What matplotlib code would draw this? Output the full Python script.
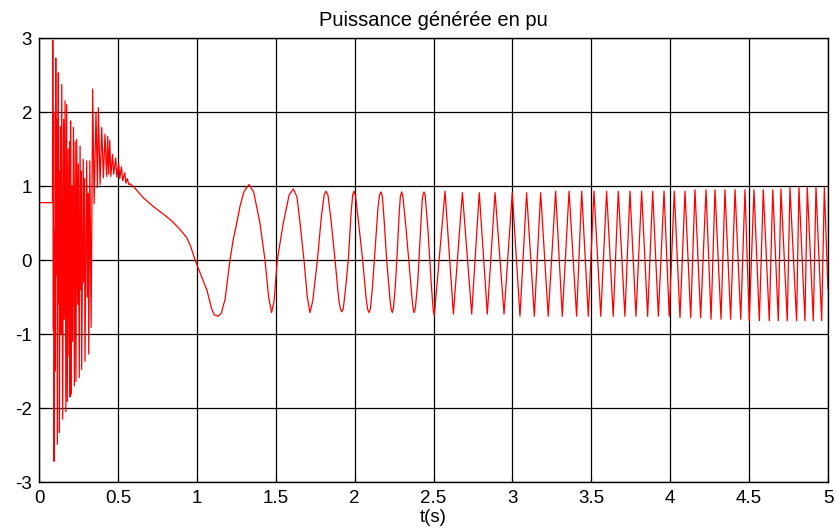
import matplotlib.pyplot as plt

# Instants (s) et valeurs (pu) : palier initial,
# régime transitoire, puis extrema des oscillations
t_debut = [0.0, 0.085, 0.087, 0.091, 0.093, 0.095, 0.100, 0.103, 0.106, 0.110,
           0.113, 0.116, 0.122, 0.126, 0.128, 0.129, 0.136, 0.139, 0.144, 0.150,
           0.156, 0.160, 0.165, 0.170, 0.175, 0.179, 0.185, 0.190, 0.195, 0.197,
           0.200, 0.203, 0.208, 0.212, 0.218, 0.224, 0.229, 0.234, 0.239, 0.245,
           0.249, 0.255, 0.260, 0.265, 0.267, 0.270, 0.280, 0.285, 0.288, 0.291,
           0.302, 0.307, 0.310, 0.315, 0.322, 0.330, 0.340, 0.349, 0.361, 0.370,
           0.376, 0.387, 0.397, 0.408, 0.418, 0.429, 0.435, 0.441, 0.448, 0.455,
           0.466, 0.473, 0.486, 0.493, 0.505, 0.512, 0.522, 0.530, 0.543, 0.550,
           0.560, 0.568, 0.577]
p_debut = [0.775, 0.775, 2.97, -0.95, 2.00, -2.72, 0.40, -1.50, 2.73, -0.20,
           1.90, -2.49, 2.53, -0.60, 1.20, -2.33, 1.80, -1.00, 2.37, -2.15,
           1.90, -0.80, 2.15, -2.05, 2.10, -1.91, 1.50, -1.30, 1.60, -1.85,
           1.88, -1.81, 1.00, -1.10, 1.79, -1.70, 1.60, -1.64, 1.63, -0.60,
           1.30, -1.59, 1.54, -0.40, 1.20, -1.48, 1.36, -0.30, 1.10, -1.37,
           1.34, -0.50, 0.90, -1.27, 1.34, -0.91, 2.31, 0.76, 1.99, 0.98,
           2.06, 1.02, 1.79, 1.11, 1.70, 1.13, 1.67, 1.16, 1.62, 1.13,
           1.43, 1.16, 1.38, 1.12, 1.30, 1.10, 1.26, 1.07, 1.18, 1.04,
           1.10, 1.02, 1.03]

t_lent = [0.600, 0.661, 0.720, 0.788, 0.840, 0.873, 0.910, 0.936, 0.960, 0.989,
          1.040, 1.063, 1.084, 1.094, 1.110, 1.134, 1.155, 1.179, 1.210, 1.231,
          1.253, 1.274, 1.300, 1.331, 1.360, 1.400, 1.432, 1.455, 1.474, 1.490,
          1.510, 1.548, 1.585, 1.612, 1.635, 1.654, 1.679, 1.700, 1.717, 1.735,
          1.764, 1.790, 1.807, 1.819, 1.831, 1.850, 1.876, 1.900, 1.910, 1.918,
          1.928, 1.942, 1.960, 1.978, 1.988, 1.996, 2.006, 2.028, 2.051, 2.072,
          2.083, 2.091, 2.100, 2.112, 2.125, 2.148, 2.158, 2.167, 2.176, 2.190,
          2.203, 2.225, 2.232, 2.239, 2.246, 2.258, 2.270, 2.283, 2.290, 2.298,
          2.306, 2.325, 2.345, 2.365, 2.372, 2.378, 2.385, 2.400, 2.415, 2.428,
          2.434, 2.440, 2.447, 2.465, 2.485, 2.498, 2.505]
p_lent = [0.99, 0.84, 0.73, 0.62, 0.53, 0.46, 0.37, 0.30, 0.19, 0.00,
          -0.28, -0.40, -0.58, -0.66, -0.74, -0.76, -0.72, -0.53, 0.00, 0.28,
          0.50, 0.73, 0.93, 1.02, 0.92, 0.50, 0.00, -0.50, -0.71, -0.55,
          0.00, 0.50, 0.88, 0.96, 0.85, 0.50, 0.00, -0.50, -0.71, -0.55,
          0.00, 0.60, 0.88, 0.93, 0.88, 0.55, 0.00, -0.55, -0.66, -0.70,
          -0.66, -0.40, 0.00, 0.65, 0.88, 0.93, 0.86, 0.45, 0.00, -0.50,
          -0.67, -0.71, -0.66, -0.40, 0.00, 0.70, 0.88, 0.92, 0.86, 0.45,
          0.00, -0.55, -0.67, -0.71, -0.65, -0.35, 0.10, 0.65, 0.86, 0.92,
          0.86, 0.45, -0.05, -0.55, -0.67, -0.71, -0.65, -0.30, 0.30, 0.80,
          0.89, 0.92, 0.88, 0.40, -0.30, -0.68, -0.75]

t_osc = [2.573, 2.626, 2.683, 2.742, 2.790, 2.841, 2.890, 2.947, 2.999, 3.048,
         3.090, 3.139, 3.179, 3.227, 3.274, 3.316, 3.359, 3.407, 3.439, 3.481,
         3.517, 3.560, 3.597, 3.639, 3.671, 3.713, 3.745, 3.783, 3.819, 3.857,
         3.889, 3.925, 3.961, 3.994, 4.026, 4.062, 4.094, 4.130, 4.157, 4.193,
         4.227, 4.259, 4.284, 4.322, 4.347, 4.383, 4.411, 4.447, 4.474, 4.501,
         4.531, 4.565, 4.590, 4.628, 4.650, 4.685, 4.702, 4.742, 4.759, 4.801,
         4.816, 4.854, 4.869, 4.907, 4.924, 4.960, 4.977, 5.000]
p_osc = [0.93, -0.73, 0.91, -0.73, 0.91, -0.73, 0.91, -0.73, 0.91, -0.76,
         0.91, -0.76, 0.91, -0.76, 0.93, -0.76, 0.93, -0.76, 0.93, -0.76,
         0.93, -0.76, 0.93, -0.76, 0.93, -0.76, 0.93, -0.76, 0.93, -0.76,
         0.93, -0.76, 0.93, -0.76, 0.93, -0.78, 0.93, -0.78, 0.95, -0.78,
         0.95, -0.80, 0.95, -0.80, 0.95, -0.80, 0.95, -0.80, 0.95, -0.82,
         0.95, -0.82, 0.95, -0.82, 0.95, -0.82, 0.96, -0.82, 0.98, -0.82,
         0.98, -0.82, 0.98, -0.82, 0.98, -0.82, 0.98, -0.39]

t = t_debut + t_lent + t_osc
p = p_debut + p_lent + p_osc

xticks = [0, 0.5, 1, 1.5, 2, 2.5, 3, 3.5, 4, 4.5, 5]
xlabels = ['0', '0.5', '1', '1.5', '2', '2.5', '3', '3.5', '4', '4.5', '5']
yticks = [-3, -2, -1, 0, 1, 2, 3]

plt.rcParams['font.family'] = ['Liberation Sans', 'DejaVu Sans']
plt.rcParams['axes.unicode_minus'] = False

fig = plt.figure(figsize=(8.36, 5.28), dpi=100)
ax = fig.add_axes([0.0467, 0.0871, 0.9437, 0.8409])

ax.plot(t, p, color='red', linewidth=0.9)

ax.set_xlim(0, 5)
ax.set_ylim(-3, 3)
ax.set_xticks(xticks)
ax.set_xticklabels(xlabels)
ax.set_yticks(yticks)
ax.grid(True, color='black', linewidth=0.9, linestyle='-')
ax.tick_params(direction='in', length=4, labelsize=13.5)
ax.tick_params(axis='x', pad=6)
ax.tick_params(axis='y', pad=5)
for s in ax.spines.values():
    s.set_linewidth(1.0)

ax.set_title('Puissance générée en pu', fontsize=14.5, pad=9)
ax.set_xlabel('t(s)', fontsize=13.5, labelpad=1)

fig.savefig('out.png', dpi=100)
